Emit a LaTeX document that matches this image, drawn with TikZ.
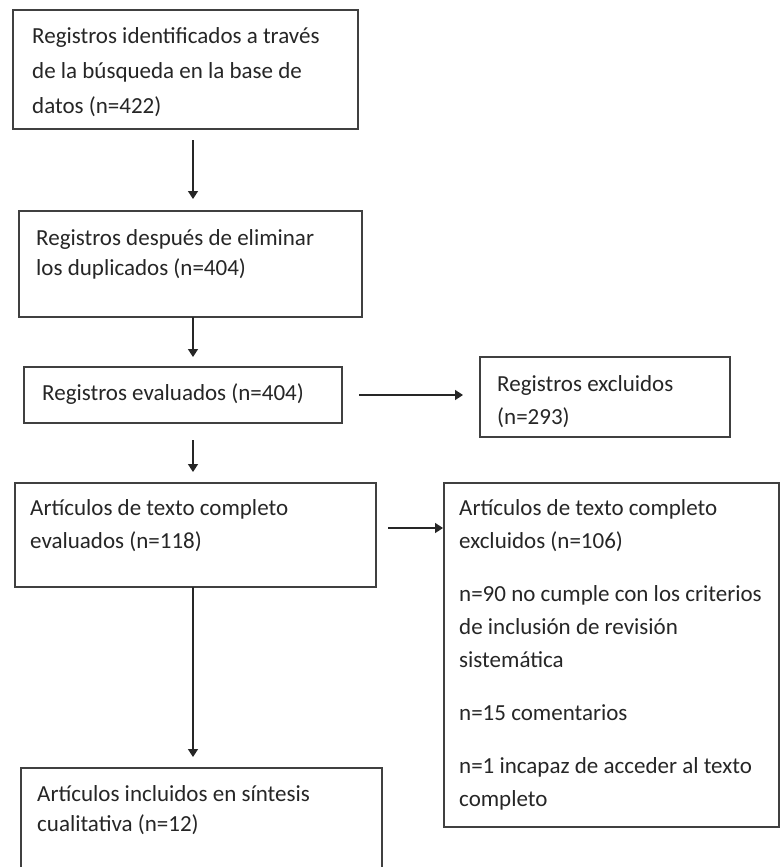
\documentclass[tikz,border=0pt]{standalone}
\usepackage{fontspec}
\setmainfont{Carlito}
\usetikzlibrary{arrows.meta,positioning,calc}

\tikzset{
  caja/.style={draw=black!75, line width=1.6pt, inner sep=0pt, outer sep=0pt, anchor=north west},
  texto/.style={font=\fontsize{23}{#1}\selectfont, align=left, inner sep=0pt, text=black!85},
  texto/.default=33,
  flecha/.style={line width=1.5pt, draw=black!85, -{Triangle[width=10pt,length=8pt]}}
}

\begin{document}
\begin{tikzpicture}[x=1pt, y=1pt]
        \clip (0,0) rectangle (781,-867);
        \fill[white] (0,0) rectangle (781,-867);

        % Identificación
        \node[caja, minimum width=345pt, minimum height=119pt] (ident) at (13,-10) {};
        \node[texto=35, below right=8.5pt and 19pt of ident.north west] (tident)
          {\strut Registros identificados a través\\de la búsqueda en la base de\\datos (n=422)};

        % Duplicados
        \node[caja, minimum width=343pt, minimum height=106pt] (dupl) at (19,-211) {};
        \node[texto=30, below right=13pt and 17pt of dupl.north west] (tdupl)
          {\strut Registros después de eliminar\\los duplicados (n=404)};

        % Evaluados
        \node[caja, minimum width=318pt, minimum height=56pt] (eval) at (24,-367) {};
        \node[texto=35, below right=8.5pt and 18pt of eval.north west] (teval)
          {\strut Registros evaluados (n=404)};

        % Excluidos
        \node[caja, minimum width=250pt, minimum height=80pt] (excl) at (480,-357) {};
        \node[texto=33, below right=11pt and 17pt of excl.north west] (texcl)
          {\strut Registros excluidos\\(n=293)};

        % Texto completo
        \node[caja, minimum width=361pt, minimum height=104pt] (full) at (15,-483) {};
        \node[texto=33, below right=9pt and 15pt of full.north west] (tfull)
          {\strut Artículos de texto completo\\evaluados (n=118)};

        % Texto completo excluidos
        \node[caja, minimum width=335pt, minimum height=344pt] (fexcl) at (444,-483) {};
        \node[texto=33, below right=9pt and 15pt of fexcl.north west] (tfexcl)
          {\strut Artículos de texto completo\\excluidos (n=106)\\[20pt]
           n=90 no cumple con los criterios\\de inclusión de revisión\\sistemática\\[20pt]
           n=15 comentarios\\[20pt]
           n=1 incapaz de acceder al texto\\completo};

        % Incluidos
        \node[caja, minimum width=361pt, minimum height=112pt] (incl) at (21,-768) {};
        \node[texto=30, below right=12pt and 16pt of incl.north west] (tincl)
          {\strut Artículos incluidos en síntesis\\cualitativa (n=12)};

        % Flechas
        \coordinate (eje) at (193,0);
        \draw[flecha, shorten <=11pt, shorten >=12pt] (ident.south -| eje) -- (dupl.north -| eje);
        \draw[flecha, shorten >=10pt] (dupl.south -| eje) -- (eval.north -| eje);
        \draw[flecha, shorten <=17pt, shorten >=17pt] (eval.east) -- (eval.east -| excl.west);
        \draw[flecha, shorten <=17pt, shorten >=11pt] (eval.south -| eje) -- (full.north -| eje);
        \draw[flecha, shorten <=12pt, shorten >=1pt] ([yshift=-45pt]full.north east) -- ([yshift=-45pt]full.north east -| fexcl.west);
        \draw[flecha, shorten >=11pt] (full.south -| eje) -- (incl.north -| eje);
\end{tikzpicture}
\end{document}
